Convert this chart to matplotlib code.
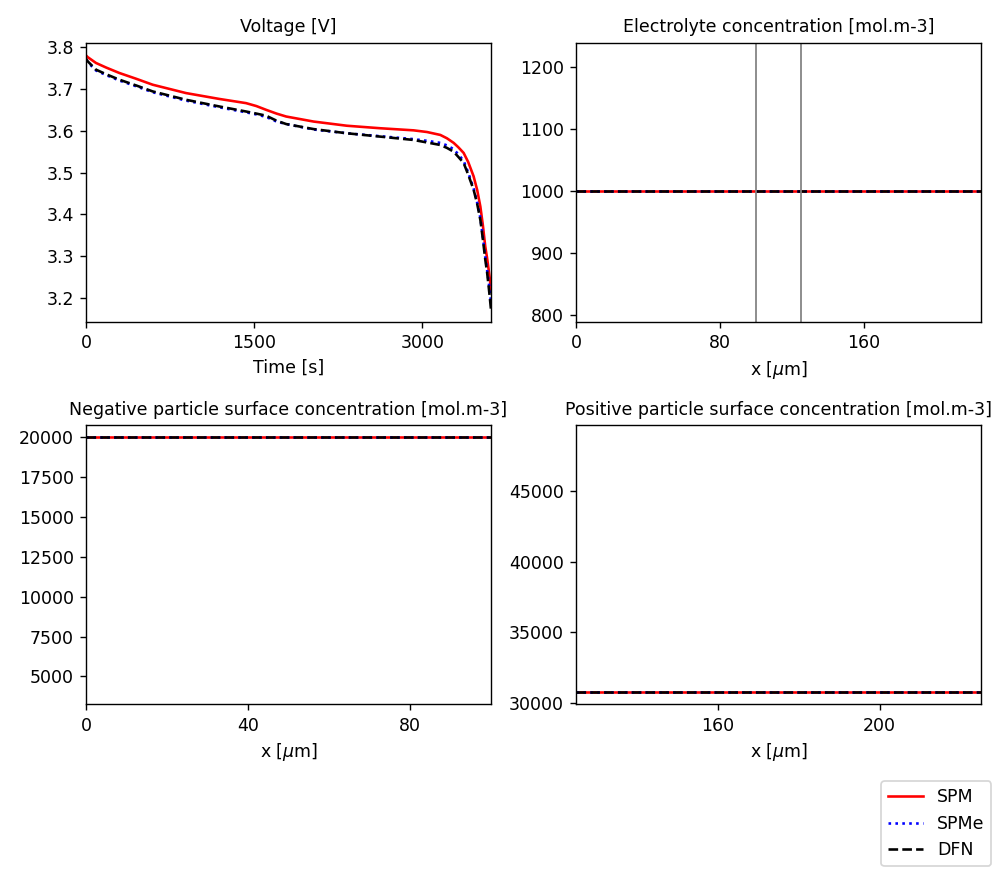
import matplotlib
matplotlib.use("Agg")
import matplotlib.pyplot as plt

# voltage curves
time = [0, 15, 89, 180, 298, 450, 595, 893, 1190, 1428, 1520, 1607, 1700, 1786,
        2030, 2327, 2625, 2922, 3042, 3161, 3220, 3280, 3320, 3369, 3410, 3458,
        3490, 3518, 3540, 3562, 3578, 3592, 3603, 3613]
v_spm = [3.780, 3.776, 3.762, 3.751, 3.738, 3.724, 3.710, 3.690, 3.676, 3.666,
         3.659, 3.650, 3.641, 3.634, 3.622, 3.612, 3.606, 3.601, 3.597, 3.590,
         3.582, 3.571, 3.561, 3.547, 3.525, 3.491, 3.458, 3.419, 3.375, 3.323,
         3.296, 3.268, 3.245, 3.215]
v_spme = [3.770, 3.764, 3.744, 3.733, 3.720, 3.706, 3.692, 3.672, 3.656, 3.644,
          3.639, 3.633, 3.622, 3.616, 3.603, 3.594, 3.587, 3.580, 3.576, 3.571,
          3.565, 3.556, 3.544, 3.528, 3.500, 3.462, 3.428, 3.392, 3.347, 3.298,
          3.268, 3.240, 3.215, 3.190]
v_dfn = [3.772, 3.766, 3.746, 3.735, 3.722, 3.708, 3.694, 3.674, 3.658, 3.646,
         3.641, 3.636, 3.624, 3.616, 3.604, 3.594, 3.586, 3.578, 3.572, 3.566,
         3.559, 3.550, 3.538, 3.523, 3.495, 3.459, 3.425, 3.387, 3.342, 3.292,
         3.262, 3.228, 3.200, 3.172]

# spatial profiles at t = 0 (flat)
x_elec = [0, 225]
c_elec = [1000, 1000]
x_neg = [0, 100]
c_neg = [19986, 19986]
x_pos = [125, 225]
c_pos = [30730, 30730]
separator = [100, 125]

models = ["SPM", "SPMe", "DFN"]
colors = ["r", "b", "k"]
styles = ["-", ":", "--"]

fig = plt.figure(figsize=(8, 7), dpi=125)
ax1 = fig.add_axes([0.086, 0.632, 0.405, 0.319])
ax2 = fig.add_axes([0.576, 0.632, 0.405, 0.319])
ax3 = fig.add_axes([0.086, 0.195, 0.405, 0.319])
ax4 = fig.add_axes([0.576, 0.195, 0.405, 0.319])

# voltage
lines = []
for v, c, ls, name in zip([v_spm, v_spme, v_dfn], colors, styles, models):
    l, = ax1.plot(time, v, color=c, linestyle=ls, lw=1.5, label=name)
    lines.append(l)
ax1.set_xlim(0, 3613)
ax1.set_ylim(3.143, 3.810)
ax1.plot([0, 0], [3.143, 3.810], "k--", lw=1)
ax1.set_xticks([0, 1500, 3000])
ax1.set_yticks([3.2, 3.3, 3.4, 3.5, 3.6, 3.7, 3.8])
ax1.set_xlabel("Time [s]")
ax1.set_title("Voltage [V]", fontsize=10)

# electrolyte
for c, ls in zip(colors, styles):
    ax2.plot(x_elec, c_elec, color=c, linestyle=ls, lw=1.5)
for xs in separator:
    ax2.axvline(xs, color="0.5", lw=1)
ax2.set_xlim(0, 225)
ax2.set_ylim(788, 1239)
ax2.set_xticks([0, 80, 160])
ax2.set_xlabel(r"x [$\mu$m]")
ax2.set_title("Electrolyte concentration [mol.m-3]", fontsize=10)

# negative particle
for c, ls in zip(colors, styles):
    ax3.plot(x_neg, c_neg, color=c, linestyle=ls, lw=1.5)
ax3.set_xlim(0, 100)
ax3.set_ylim(3243, 20753)
ax3.set_xticks([0, 40, 80])
ax3.set_xlabel(r"x [$\mu$m]")
ax3.set_title("Negative particle surface concentration [mol.m-3]", fontsize=10)

# positive particle
for c, ls in zip(colors, styles):
    ax4.plot(x_pos, c_pos, color=c, linestyle=ls, lw=1.5)
ax4.set_xlim(125, 225)
ax4.set_ylim(29880, 49700)
ax4.set_xticks([160, 200])
ax4.set_yticks([30000, 35000, 40000, 45000])
ax4.set_xlabel(r"x [$\mu$m]")
ax4.set_title("Positive particle surface concentration [mol.m-3]", fontsize=10)

fig.legend(lines, models, loc="lower right", bbox_to_anchor=(1.0, 0.0))

fig.savefig("out.png", dpi=125)
